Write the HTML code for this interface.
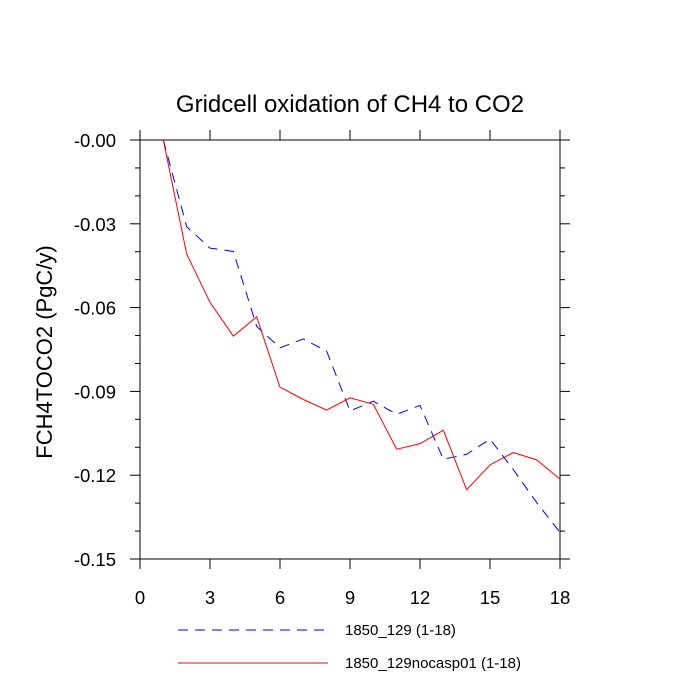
<!DOCTYPE html>
<html><head><meta charset="utf-8"><style>
body{margin:0;background:#fff;}
svg{display:block;font-family:"Liberation Sans",sans-serif;}
</style></head><body>
<svg id="chart" width="700" height="700" xmlns="http://www.w3.org/2000/svg"></svg>
<script>
const xValues=[1,2,3,4,5,6,7,8,9,10,11,12,13,14,15,16,17,18];
const blueSeries=[0,-0.031,-0.0387,-0.0399,-0.0667,-0.0744,-0.0712,-0.0756,-0.097,-0.0935,-0.0982,-0.095,-0.1143,-0.1125,-0.1071,-0.118,-0.1298,-0.1405];
const redSeries=[0,-0.0408,-0.0581,-0.0702,-0.0633,-0.0885,-0.0929,-0.0967,-0.0923,-0.0946,-0.1107,-0.1087,-0.1039,-0.1252,-0.1163,-0.1119,-0.1145,-0.1214];
const xTicks=[0,3,6,9,12,15,18];
const yTicks=[0,-0.03,-0.06,-0.09,-0.12,-0.15];
const yTickLabels=["-0.00","-0.03","-0.06","-0.09","-0.12","-0.15"];
const seriesNames=["1850_129 (1-18)","1850_129nocasp01 (1-18)"];

const NS="http://www.w3.org/2000/svg";
const svg=document.getElementById('chart');
const L=140,R=560,T=140,B=559;
const xs=v=>L+(v-0)/18*(R-L);
const ys=v=>T+(0-v)/0.15*(B-T);
function mk(tag,attrs,parent){const e=document.createElementNS(NS,tag);for(const k in attrs)e.setAttribute(k,attrs[k]);(parent||svg).appendChild(e);return e;}

const title=mk('text',{x:350,y:112,'text-anchor':'middle','font-size':24,fill:'#000'});


title.textContent='Gridcell oxidation of CH4 to CO2';

const frame=mk('rect',{x:L,y:T,width:R-L,height:B-T,fill:'none',stroke:'#000','stroke-width':1});



const axes=mk('g',{stroke:'#000','stroke-width':1});


for(let i=0;i<=15;i++){
  const v=-i*0.01, y=ys(v), len=(i%3===0)?10:5;
  mk('line',{x1:L-len,y1:y,x2:L,y2:y},axes);
  mk('line',{x1:R,y1:y,x2:R+len,y2:y},axes);
}
xTicks.forEach(v=>{
  const x=xs(v);
  mk('line',{x1:x,y1:B,x2:x,y2:B+10},axes);
  mk('line',{x1:x,y1:T-10,x2:x,y2:T},axes);
});
yTicks.forEach((v,i)=>{
  const t=mk('text',{x:L-24,y:ys(v)+7,'text-anchor':'end','font-size':18.5,fill:'#000'});
  
  
  t.textContent=yTickLabels[i];
});
xTicks.forEach(v=>{
  const t=mk('text',{x:xs(v),y:B+45,'text-anchor':'middle','font-size':18.5,fill:'#000'});
  
  
  t.textContent=String(v);
});
const yt=mk('text',{x:52,y:352,'text-anchor':'middle','font-size':22,fill:'#000',transform:'rotate(-90 52 352)'});


yt.textContent='FCH4TOCO2  (PgC/y)';

function pts(arr){return arr.map((v,i)=>xs(xValues[i])+','+ys(v)).join(' ');}
const blue=mk('polyline',{points:pts(blueSeries),fill:'none',stroke:'#0000ff','stroke-width':1,'stroke-dasharray':'10,7'});


const red=mk('polyline',{points:pts(redSeries),fill:'none',stroke:'#ff0000','stroke-width':1});



const lg1=mk('line',{x1:178,y1:630,x2:328,y2:630,stroke:'#0000ff','stroke-width':1,'stroke-dasharray':'10,7'});


const lt1=mk('text',{x:345,y:635,'font-size':15,fill:'#000'});


lt1.textContent=seriesNames[0];
const lg2=mk('line',{x1:178,y1:663,x2:328,y2:663,stroke:'#ff0000','stroke-width':1});


const lt2=mk('text',{x:345,y:668,'font-size':15,fill:'#000'});


lt2.textContent=seriesNames[1];
</script>
</body></html>
